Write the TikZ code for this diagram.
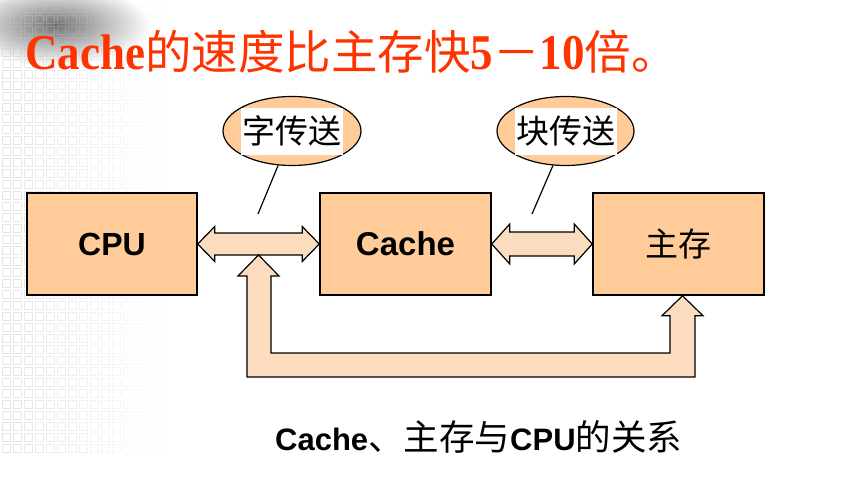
\documentclass[tikz,border=0pt]{standalone}
\usepackage{fontspec}
\setmainfont{Liberation Serif}
\newfontfamily\arialb{Liberation Sans}
\newfontfamily\cjk{Noto Sans CJK SC}
\newfontfamily\titleser[FakeStretch=0.9]{Liberation Serif}
\usetikzlibrary{shapes.geometric,calc,fadings}
\tikzfading[name=blobfade, inner color=transparent!0, outer color=transparent!100]
\definecolor{boxfill}{RGB}{255,204,153}
\definecolor{arrfill}{RGB}{252,220,190}
\definecolor{titlered}{RGB}{255,51,0}
\newcommand{\TitLat}[1]{{\titleser\bfseries\fontsize{50}{50}\selectfont #1}}
\newcommand{\TitCJK}[1]{{\cjk\fontsize{46.5}{46.5}\selectfont #1}}
\newcommand{\CapLat}[1]{{\arialb\bfseries\fontsize{31}{31}\selectfont #1}}
\newcommand{\CapCJK}[1]{{\cjk\fontsize{35.5}{35.5}\selectfont #1}}
\tikzset{
  box/.style={draw=black, line width=1.5pt, fill=boxfill, minimum width=170pt, minimum height=102pt, inner sep=0},
  blockarrow/.style={draw=black, line width=1.2pt, fill=arrfill, line join=miter},
  callout/.style={ellipse, draw=black, line width=1.2pt, fill=boxfill, minimum width=138pt, minimum height=69pt, inner sep=0},
  calltext/.style={fill=white, inner sep=0, minimum width=102pt, minimum height=47pt, font=\cjk\fontsize{33}{33}\selectfont},
  pointer/.style={draw=black, line width=1.2pt}
}
\begin{document}
\begin{tikzpicture}[x=1pt, y=-1pt]
\useasboundingbox (0,0) rectangle (860,487);
\fill[white] (0,0) rectangle (860,487);
% background decoration
\fill[black!55, path fading=blobfade] (-40,-15) rectangle (150,65);
\foreach \i in {0,...,14} {
  \pgfmathsetmacro\op{0.45*(1-\i/15)}
  \foreach \j in {0,...,40} {
    \draw[black!22, opacity=\op, line width=0.7pt] (2+11*\i, 4+11*\j) rectangle ++(8,8);
  }
}
% title
\node[anchor=base west, inner sep=0, text=titlered] (title) at (25,70)
  {\TitLat{Cache}\TitCJK{的速度比主存快}\TitLat{5}\TitCJK{－}\TitLat{10}\TitCJK{倍。}};
% boxes
\node[box] (cpu) at (112,244) {\arialb\bfseries\fontsize{32}{32}\selectfont CPU};
\node[box, minimum width=171pt] (cache) at (405.5,244) {\arialb\bfseries\fontsize{33}{33}\selectfont Cache};
\node[box, minimum width=171pt] (mem) at (678.5,244) {\cjk\fontsize{33}{33}\selectfont 主存};
% double block arrow CPU <-> Cache
\draw[blockarrow] let \p1=(cpu.east), \p2=(cache.west) in
  (\x1,\y1) -- (\x1+17pt,\y1+17.5pt) -- (\x1+17pt,\y1+11pt) -- (\x2-17pt,\y1+11pt)
  -- (\x2-17pt,\y1+17.5pt) -- (\x2,\y1) -- (\x2-17pt,\y1-17.5pt) -- (\x2-17pt,\y1-11pt)
  -- (\x1+17pt,\y1-11pt) -- (\x1+17pt,\y1-17.5pt) -- cycle;
% double block arrow Cache <-> main memory
\draw[blockarrow] let \p1=(cache.east), \p2=(mem.west) in
  (\x1,\y1) -- (\x1+18pt,\y1+20pt) -- (\x1+18pt,\y1+12pt) -- (\x2-18pt,\y1+12pt)
  -- (\x2-18pt,\y1+20pt) -- (\x2,\y1) -- (\x2-18pt,\y1-20pt) -- (\x2-18pt,\y1-12pt)
  -- (\x1+18pt,\y1-12pt) -- (\x1+18pt,\y1-20pt) -- cycle;
% U-shaped block arrow from bus to main memory
\coordinate (join) at ($($(cpu.east)!0.5!(cache.west)$)+(0,11)$);
\coordinate (memin) at ($(mem.south)+(4,0)$);
\draw[blockarrow] let \p1=(join), \p2=(memin) in
  (\x1,\y1) -- (\x1+20.5pt,\y1-21pt) -- (\x1+12.5pt,\y1-21pt) -- (\x1+12.5pt,\y1-98pt)
  -- (\x2-12.5pt,\y1-98pt) -- (\x2-12.5pt,\y2-20pt) -- (\x2-20.5pt,\y2-20pt) -- (\x2,\y2)
  -- (\x2+20.5pt,\y2-20pt) -- (\x2+12.5pt,\y2-20pt) -- (\x2+12.5pt,\y1-122pt)
  -- (\x1-11.5pt,\y1-122pt) -- (\x1-11.5pt,\y1-21pt) -- (\x1-20.5pt,\y1-21pt) -- cycle;
% callouts
\node[callout] (c1) at (292,131) {};
\node[calltext] (t1) at (c1.center) {字传送};
\node[callout, minimum width=137pt] (c2) at (565.5,131) {};
\node[calltext] (t2) at (c2.center) {块传送};
\coordinate (p1) at (258,214);
\coordinate (p2) at (532,214);
\draw[pointer] (c1.248) -- (p1);
\draw[pointer] (c2.250) -- (p2);
% caption
\node[anchor=base west, inner sep=0] (cap) at (275,450)
  {\CapLat{Cache}\CapCJK{、主存与}\CapLat{CPU}\CapCJK{的关系}};
\end{tikzpicture}
\end{document}
